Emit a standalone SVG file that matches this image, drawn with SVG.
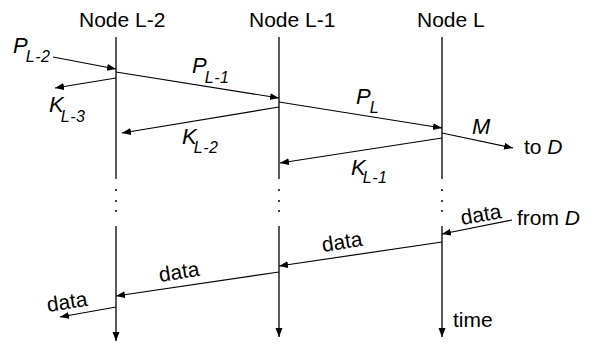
<svg xmlns="http://www.w3.org/2000/svg" width="600" height="343" viewBox="0 0 600 343">
<style>
text{font-family:"Liberation Sans",Arial,sans-serif;fill:#000}
.n{font-size:21px}
.it{font-size:22px;font-style:italic}
.sub{font-size:16px;font-style:italic;letter-spacing:0.6px}
.life{stroke:#000;stroke-width:1.3;fill:none}
.msg{stroke:#000;stroke-width:1.2;fill:none;marker-end:url(#ah)}
.dot{fill:#000}
</style>
<defs>
<marker id="ah" markerUnits="userSpaceOnUse" markerWidth="10" markerHeight="8" refX="9" refY="3.5" orient="auto">
<path d="M0,0 L9,3.5 L0,7 z" fill="#000"/>
</marker>
</defs>
<g id="node-L-2">
<text class="n" x="79" y="27">Node L-2</text>
<line class="life" x1="116" y1="37" x2="116" y2="179"/>
<circle class="dot" cx="116" cy="190" r="1"/><circle class="dot" cx="116" cy="201" r="1"/><circle class="dot" cx="116" cy="211" r="1"/>
<line class="life" x1="116" y1="226" x2="116" y2="341" marker-end="url(#ah)"/>
</g>
<g id="node-L-1">
<text class="n" x="249" y="27">Node L-1</text>
<line class="life" x1="279" y1="37" x2="279" y2="179"/>
<circle class="dot" cx="279" cy="190" r="1"/><circle class="dot" cx="279" cy="201" r="1"/><circle class="dot" cx="279" cy="211" r="1"/>
<line class="life" x1="279" y1="226" x2="279" y2="337" marker-end="url(#ah)"/>
</g>
<g id="node-L">
<text class="n" x="417" y="27">Node L</text>
<line class="life" x1="442" y1="37" x2="442" y2="179"/>
<circle class="dot" cx="442" cy="190" r="1"/><circle class="dot" cx="442" cy="201" r="1"/><circle class="dot" cx="442" cy="211" r="1"/>
<line class="life" x1="442" y1="226" x2="442" y2="337" marker-end="url(#ah)"/>
<text class="n" x="453" y="327">time</text>
</g>
<g id="connectors">
<line class="msg" x1="53" y1="57" x2="116" y2="69"/>
<line class="msg" x1="116" y1="78" x2="55" y2="88"/>
<line class="msg" x1="116" y1="72" x2="279" y2="98"/>
<line class="msg" x1="279" y1="107" x2="122" y2="133"/>
<line class="msg" x1="279" y1="102" x2="442" y2="128"/>
<line class="msg" x1="442" y1="133" x2="513" y2="148"/>
<line class="msg" x1="442" y1="138" x2="280" y2="163"/>
<line class="msg" x1="512" y1="220" x2="442" y2="234"/>
<line class="msg" x1="442" y1="242" x2="279" y2="266"/>
<line class="msg" x1="279" y1="272" x2="116" y2="296"/>
<line class="msg" x1="116" y1="307" x2="60" y2="317"/>
</g>
<g id="labels">
<text class="it" x="13" y="53">P<tspan class="sub" dx="-2" dy="9">L-2</tspan></text>
<text class="it" x="49" y="112">K<tspan class="sub" dx="-3" dy="10">L-3</tspan></text>
<text class="it" x="192" y="73">P<tspan class="sub" dx="-2" dy="10">L-1</tspan></text>
<text class="it" x="182" y="144">K<tspan class="sub" dx="-3" dy="9">L-2</tspan></text>
<text class="it" x="356" y="104">P<tspan class="sub" dx="-1" dy="9">L</tspan></text>
<text class="it" x="351" y="175">K<tspan class="sub" dx="-3" dy="8">L-1</tspan></text>
<text class="it" x="472" y="134">M</text>
<text class="n" x="524" y="154">to <tspan font-style="italic">D</tspan></text>
<text class="n" x="517" y="225">from <tspan font-style="italic">D</tspan></text>
<text class="n" transform="translate(462,225) rotate(-10)">data</text>
<text class="n" transform="translate(323,252) rotate(-9)">data</text>
<text class="n" transform="translate(160,282) rotate(-9)">data</text>
<text class="n" transform="translate(48,312) rotate(-9)">data</text>
</g>
</svg>
